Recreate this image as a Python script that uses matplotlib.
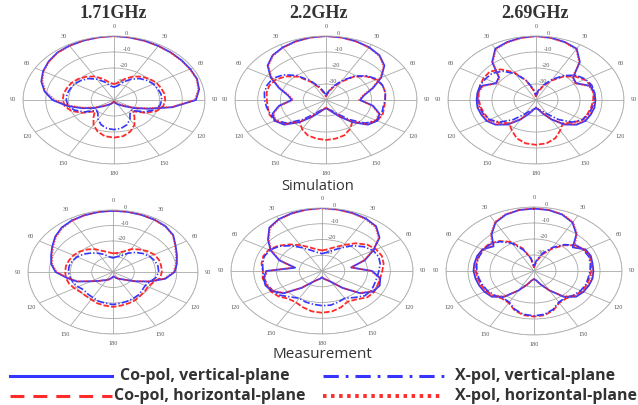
import numpy as np
import matplotlib
matplotlib.use("Agg")
import matplotlib.pyplot as plt
from matplotlib.lines import Line2D

plt.rcParams['lines.scale_dashes'] = False

# angles in degrees, clockwise from top (0..350, step 10)
angles = np.arange(0, 360, 10)

# ---------- simulation 1.71 GHz ----------
sim171_cov = [0, -0.3, -0.6, -1.0, -1.2, -1.3, -1.3, -1.2, -2, -4, -14, -24, -30, -34, -36, -37, -38, -38.5,
              -39, -38.5, -38, -37, -36, -34, -30, -25, -19, -13, -9, -6, -4, -2.5, -1.3, -0.8, -0.5, -0.2]
sim171_xh = [-0.2, -0.4, -0.8, -1.1, -1.4, -1.5, -1.5, -1.4, -2.4, -4.5, -14.5, -25, -31, -35, -37, -38, -38.5, -39,
             -39, -39, -38.5, -37.5, -36.5, -34.5, -31, -26, -20, -14, -9.5, -6.5, -4.3, -2.8, -1.5, -1.0, -0.6, -0.4]
sim171_coh = [-30, -29, -26, -23, -21, -19.5, -18.5, -18, -17.5, -17.5, -18, -20, -24, -29, -26, -22, -19, -17,
              -16.5, -17, -19, -22, -26, -29, -24, -20, -18, -17.5, -17.5, -18, -18.5, -19.5, -21, -23, -26, -29]
sim171_xv = [-32, -31, -28, -25, -22.5, -21, -20, -19.5, -19, -19, -19.5, -21.5, -25, -30, -29, -26, -23.5, -22,
             -21.5, -22, -23.5, -26, -29, -30, -25, -21.5, -19.5, -19, -19, -19.5, -20, -21, -22.5, -25, -28, -31]

# ---------- simulation 2.2 GHz ----------
sim22_cov = [0, -0.3, -1, -2, -3.5, -6.5, -12, -18, -23, -25, -19, -15, -14, -16, -22, -28, -32, -34,
             -35, -34, -32, -28, -22, -16, -14, -15, -19, -25, -23, -18, -12, -6.5, -3.5, -2, -1, -0.3]
sim22_xh = [-0.2, -0.5, -1.2, -2.3, -3.8, -7, -12.5, -18.5, -23.5, -25.5, -19.5, -15.5, -14.5, -16.5, -22.5, -28.5,
            -32.5, -34.5, -35.5, -34.5, -32.5, -28.5, -22.5, -16.5, -14.5, -15.5, -19.5, -25.5, -23.5, -18.5, -12.5,
            -7, -3.8, -2.3, -1.2, -0.5]
sim22_coh = [-38, -36, -32, -27, -21, -17, -14.5, -13.5, -13.5, -14, -14, -13.5, -14, -17, -22, -19, -16.5, -15.5,
             -15, -15.5, -16.5, -19, -22, -17, -14, -13.5, -14, -14, -13.5, -13.5, -14.5, -17, -21, -27, -32, -36]
sim22_xv = [-37, -35, -31, -26, -20.5, -16.5, -14, -13.5, -13.5, -14, -14.5, -14, -14.5, -17.5, -24, -30, -33, -34,
            -35, -34, -33, -30, -24, -17.5, -14.5, -14, -13.5, -13, -12.5, -12.5, -13, -15.5, -20, -26, -31, -35]

# ---------- simulation 2.69 GHz ----------
sim269_cov = [0, -0.5, -1.5, -3, -9, -18, -19, -14, -13, -13, -13, -13.5, -14, -16, -20, -26, -31, -34,
              -35, -34, -31, -26, -20, -16, -14, -13.5, -13, -13, -13, -14, -19, -18, -9, -3, -1.5, -0.5]
sim269_xh = [-0.3, -0.8, -1.8, -3.5, -9.5, -18.5, -19.5, -14.5, -13.5, -13.5, -13.5, -14, -14.5, -16.5, -20.5, -26.5,
             -31.5, -34.5, -35.5, -34.5, -31.5, -26.5, -20.5, -16.5, -14.5, -14, -13.5, -13.5, -13.5, -14.5, -19.5,
             -18.5, -9.5, -3.5, -1.8, -0.8]
sim269_coh = [-38, -35, -31, -26, -21, -17, -14.5, -13.5, -13.5, -14, -14.5, -15, -15.5, -18, -21, -18, -14.5, -12.5,
              -12, -12.5, -14.5, -18, -21, -18, -15.5, -15, -14.5, -14, -13.5, -13, -12.5, -12.5, -15, -20, -27, -34]
sim269_xv = [-37, -34, -30, -25, -20, -16, -14, -13, -13, -13.5, -14, -14.5, -15.5, -18.5, -24, -30, -33, -34,
             -35, -34, -33, -30, -24, -18.5, -15.5, -14.5, -14, -13.5, -13, -13, -13.5, -14, -16.5, -21, -27, -33]

# ---------- measurement 1.71 GHz ----------
mea171_cov = [-0.5, -0.6, -0.8, -1, -1.5, -3, -6, -8, -9.5, -11, -15, -22, -28, -32, -34, -35, -36, -37,
              -37, -36, -35, -34, -33, -31, -28, -22, -18, -13, -10.5, -9, -7, -4.5, -2.5, -1.5, -1, -0.7]
mea171_xh = [-0.3, -0.5, -0.7, -1.2, -1.8, -3.3, -6.3, -8.5, -10, -11.5, -15.5, -22.5, -28.5, -32, -34, -35, -36, -37,
             -37, -36, -35, -34, -33, -31, -28.5, -22.5, -18.5, -13.5, -11, -9.5, -7.5, -5, -3, -1.8, -1.1, -0.6]
mea171_coh = [-28, -27.5, -26, -23, -21, -19, -17.5, -17, -17, -17, -17.5, -20, -21, -20.5, -20, -19, -18.5, -18,
              -17.5, -18, -18.5, -19.5, -20, -20, -19, -18, -17.5, -17.5, -17.5, -18, -18.5, -19.5, -21, -23, -25.5, -27]
mea171_xv = [-31, -30, -29, -26, -23.5, -21.5, -20, -19, -18.5, -18.5, -19.5, -21.5, -22.5, -22, -21, -20.5, -20, -19.5,
             -19, -19.5, -20, -21, -21.5, -22, -21, -20, -19.5, -19, -19, -19.5, -20.5, -22, -24, -26, -28, -30]

# ---------- measurement 2.2 GHz ----------
mea22_cov = [0, -0.3, -0.8, -1.5, -3, -7, -14, -20, -27, -18, -14, -13, -14, -18, -26, -32, -34, -35,
             -36, -35, -34, -32, -26, -18, -14.5, -13.5, -14, -15.5, -28, -20, -14, -9, -4, -2, -1, -0.4]
mea22_xh = [-0.3, -0.6, -1.1, -1.9, -3.5, -7.5, -14.5, -20.5, -27, -18.5, -14.5, -13.5, -14.5, -18.5, -26, -32, -34, -35,
            -36, -35, -34, -32, -26, -18.5, -15, -14, -14.5, -16, -27, -20.5, -14.5, -9.5, -4.5, -2.4, -1.3, -0.6]
mea22_coh = [-27, -26, -24, -21, -17, -14, -12.5, -12, -12.5, -13.5, -14, -14, -13.5, -14, -16.5, -17.5, -15.5, -14,
             -13.5, -14, -15.5, -17, -17, -15, -14, -14, -13.5, -14, -13, -12.5, -13, -15, -18, -21, -24, -26]
mea22_xv = [-29, -28, -26, -23, -19, -16, -14, -13.5, -14, -15, -15.5, -15.5, -15, -15.5, -18, -20, -19, -18,
            -18, -18.5, -19, -20, -18.5, -16, -15, -14.5, -14, -14, -13.5, -13, -13.5, -15.5, -19, -23, -26, -28]

# ---------- measurement 2.69 GHz ----------
mea269_cov = [-1, -1.3, -2.5, -5, -10, -17, -13, -12.5, -13, -13, -13, -13.5, -14, -15, -19, -26, -31, -34,
              -35, -34, -31, -26, -19, -15, -14, -13.5, -13, -12.5, -12.5, -12.5, -13, -16, -10, -5, -2.5, -1.3]
mea269_xh = [-0.8, -1.2, -2.2, -4.5, -9.5, -16, -13.5, -13, -13.5, -13.5, -13.5, -14, -14.5, -15.5, -19.5, -26, -31,
             -34, -35, -34, -31, -26, -19.5, -15.5, -14.5, -14, -13.5, -13, -13, -13, -13.5, -15, -9.5, -4.5, -2.2, -1.2]
mea269_coh = [-38, -34, -29, -24, -19, -15, -13.5, -13, -13.5, -14, -14.5, -14.5, -15, -16, -17.5, -17, -14, -12,
              -11.5, -12, -14, -17, -17.5, -16, -15, -14.5, -14, -13.5, -13.5, -13, -13, -13.5, -15.5, -19, -25, -32]
mea269_xv = [-37, -33, -28, -23, -18.5, -15, -14, -13.5, -14, -14.5, -15, -15, -15.5, -16.5, -18, -17.5, -14.5, -12.5,
             -12, -12.5, -14.5, -17.5, -18, -16.5, -15.5, -15, -14.5, -14, -13.5, -13.5, -13.5, -14, -16, -20, -26, -32]

titles = ['1.71GHz', '2.2GHz', '2.69GHz']
angle_labels = ['0', '30', '60', '90', '120', '150', '180', '150', '120', '90', '60', '30']
legend_labels = ['Co-pol, vertical-plane', 'Co-pol, horizontal-plane',
                 'X-pol, vertical-plane', 'X-pol, horizontal-plane']

panels = [
    (sim171_cov, sim171_xv, sim171_coh, sim171_xh),
    (sim22_cov, sim22_xv, sim22_coh, sim22_xh),
    (sim269_cov, sim269_xv, sim269_coh, sim269_xh),
    (mea171_cov, mea171_xv, mea171_coh, mea171_xh),
    (mea22_cov, mea22_xv, mea22_coh, mea22_xh),
    (mea269_cov, mea269_xv, mea269_coh, mea269_xh),
]

# axes boxes in pixels (cx, cy, rx, ry) of a 638x405 canvas
W, H = 638, 405
boxes = [(114, 100, 91, 64), (326, 100, 91, 64), (536, 100, 88, 64),
         (113, 272, 85, 62), (322, 271, 91, 63), (534, 271, 88, 64)]

BLUE = '#3535ff'
RED = '#ff2a2a'

fig = plt.figure(figsize=(6.38, 4.05), dpi=100)
fig.patch.set_facecolor('white')

theta = np.radians(np.append(angles, 360))

for (cx, cy, rx, ry), (cov, xv, coh, xh) in zip(boxes, panels):
    ax = fig.add_axes([(cx - rx) / W, (H - cy - ry) / H, 2 * rx / W, 2 * ry / H], projection='polar')
    ax.set_aspect('auto')
    ax.set_theta_zero_location('N')
    ax.set_theta_direction(-1)
    ax.set_ylim(-40, 0)
    ax.set_yticks([-30, -20, -10, 0])
    ax.set_yticklabels(['-30', '-20', '-10', '0'])
    ax.set_rlabel_position(7)
    ax.set_xticks(np.radians(np.arange(0, 360, 30)))
    ax.set_xticklabels(angle_labels)
    ax.set_xticks(np.radians(np.arange(0, 360, 5)), minor=True)
    ax.tick_params(axis='x', which='minor', length=2.5, direction='in', color='#999999', width=0.5)
    ax.tick_params(axis='x', which='major', length=0, pad=0)
    for lab in ax.get_xticklabels() + ax.get_yticklabels():
        lab.set_fontfamily('Liberation Serif')
        lab.set_fontsize(4.5)
        lab.set_color('#555555')
    ax.grid(True, color='#a8a8a8', linewidth=0.6)
    ax.spines['polar'].set_color('#b0b0b0')
    ax.spines['polar'].set_linewidth(0.6)

    ax.plot(theta, np.append(coh, coh[0]), color=RED, lw=1.3, dashes=(4, 1.5))
    ax.plot(theta, np.append(xv, xv[0]), color=BLUE, lw=1.2, dashes=(5, 1.5, 1, 1.5))
    ax.plot(theta, np.append(cov, cov[0]), color=BLUE, lw=1.3)
    ax.plot(theta, np.append(xh, xh[0]), color=RED, lw=1.2, dashes=(1, 1), alpha=0.8)

for t, x in zip(titles, [113, 318, 535]):
    fig.text(x / W, 1 - 13 / H, t, ha='center', va='center', fontsize=13,
             fontweight='bold', family='Liberation Serif', color='#333333')

fig.text(318 / W, 1 - 187 / H, 'Simulation', ha='center', va='center', fontsize=10.5,
         family='Open Sans', color='#333333')
fig.text(322 / W, 1 - 355 / H, 'Measurement', ha='center', va='center', fontsize=11,
         family='Open Sans', color='#333333')

# legend drawn by hand (two columns with different line lengths)
leg_rows = [376, 396]
leg_items = [
    (10, 112, 120, dict(color=BLUE, lw=2.2), legend_labels[0], leg_rows[0]),
    (10, 112, 114, dict(color=RED, lw=2.2, dashes=(10, 6.5)), legend_labels[1], leg_rows[1]),
    (323, 450, 455, dict(color=BLUE, lw=2.2, dashes=(11, 5, 2, 5)), legend_labels[2], leg_rows[0]),
    (323, 441, 455, dict(color=RED, lw=2.8, dashes=(2.5, 3.3)), legend_labels[3], leg_rows[1]),
]
for x0, x1, xt, style, label, y in leg_items:
    fig.add_artist(Line2D([x0 / W, x1 / W], [1 - y / H, 1 - y / H], transform=fig.transFigure, **style))
    fig.text(xt / W, 1 - y / H, label, ha='left', va='center', fontsize=11.5,
             fontweight='bold', family='Open Sans', color='#333333')

fig.savefig('out.png', dpi=100)
